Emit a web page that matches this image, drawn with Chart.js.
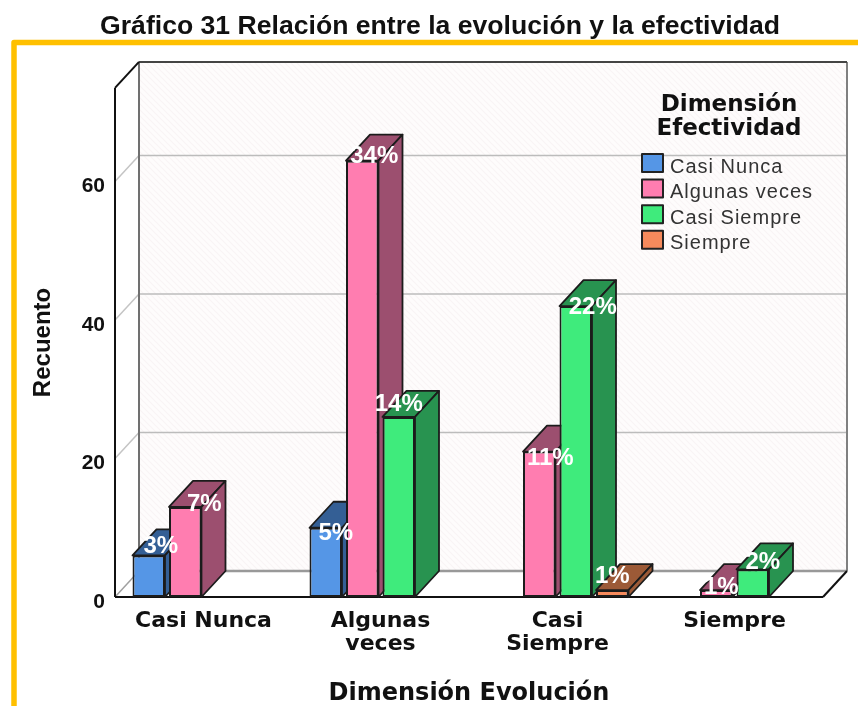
<!DOCTYPE html>
<html><head><meta charset="utf-8">
<script src="https://cdn.jsdelivr.net/npm/chart.js@4"></script>
<style>html,body{margin:0;padding:0;background:#fff}canvas{display:block}</style>
</head><body><canvas id="c" width="858" height="706"></canvas>
<script>
const categories = [['Casi Nunca'], ['Algunas','veces'], ['Casi','Siempre'], ['Siempre']];
const casiNunca    = [6, 10, null, null];
const algunasVeces = [13, 63, 21, 1];
const casiSiempre  = [null, 26, 42, 4];
const siempre      = [null, null, 1, null];
const pctCasiNunca    = ['3%', '5%', null, null];
const pctAlgunasVeces = ['7%', '34%', '11%', '1%'];
const pctCasiSiempre  = [null, '14%', '22%', '2%'];
const pctSiempre      = [null, null, '1%', null];
const legendTitle = ['Dimensión', 'Efectividad'];
const seriesNames = ['Casi Nunca', 'Algunas veces', 'Casi Siempre', 'Siempre'];
const yTicks = [0, 20, 40, 60];

const SANS = '"Liberation Sans", Arial, sans-serif';
const WIDE = '"DejaVu Sans", sans-serif';
const frontCol = ['#5596E6', '#FF7DB0', '#3FEB7C', '#F68A5C'];
const sideCol  = ['#345F95', '#9C4F6F', '#289350', '#9C5A37'];
const pctBySeries = [pctCasiNunca, pctAlgunasVeces, pctCasiSiempre, pctSiempre];
// label nudges from the centre of each bar's top edge [series][category]
const nudge = [
  [[12,-9],[10,6],null,null],
  [[19,-3],[12,-4],[11,7],[5,-3]],
  [null,[0,-13],[17,1],[10,-7]],
  [null,null,[0,-14],null]
];
const DX = 24, DY = -26;

function stripes(ctx){
  const p = document.createElement('canvas'); p.width = 6; p.height = 6;
  const c = p.getContext('2d');
  c.fillStyle = '#fefcfc'; c.fillRect(0,0,6,6);
  c.strokeStyle = '#f9f4f5'; c.lineWidth = 1.2;
  c.beginPath();
  c.moveTo(-3,-3); c.lineTo(9,9);
  c.moveTo(3,-3); c.lineTo(9,3);
  c.moveTo(-3,3); c.lineTo(3,9);
  c.stroke();
  return ctx.createPattern(p,'repeat');
}
function line(ctx,x1,y1,x2,y2,col,w){
  ctx.strokeStyle = col; ctx.lineWidth = w;
  ctx.beginPath(); ctx.moveTo(x1,y1); ctx.lineTo(x2,y2); ctx.stroke();
}
function poly(ctx,pts,fill,stroke,w){
  ctx.beginPath();
  pts.forEach((p,i)=> i ? ctx.lineTo(p[0],p[1]) : ctx.moveTo(p[0],p[1]));
  ctx.closePath();
  ctx.fillStyle = fill; ctx.fill();
  ctx.strokeStyle = stroke; ctx.lineWidth = w; ctx.lineJoin = 'round'; ctx.stroke();
}

const scene = {
  id: 'scene',
  beforeDatasetsDraw(chart){
    const ctx = chart.ctx, a = chart.chartArea, y = chart.scales.y;
    ctx.save();
    // gold frame
    ctx.strokeStyle = '#FFC000'; ctx.lineWidth = 5.5; ctx.lineJoin = 'round';
    ctx.beginPath(); ctx.moveTo(14,720); ctx.lineTo(14,42.5); ctx.lineTo(870,42.5); ctx.stroke();
    // back wall
    ctx.fillStyle = stripes(ctx);
    ctx.fillRect(a.left+DX, a.top+DY, a.right-a.left, a.bottom-a.top);
    // gridlines from the y scale
    yTicks.forEach(v=>{
      const py = y.getPixelForValue(v);
      if (v === 0) return;
      line(ctx,a.left,py,a.left+DX,py+DY,'#c4c4c4',1.5);
      line(ctx,a.left+DX,py+DY,a.right+DX,py+DY,'#bcbcbc',1.5);
    });
    // walls and floor
    line(ctx,a.left,a.bottom,a.left+DX,a.bottom+DY,'#a0a0a0',1.5);
    line(ctx,a.left+DX,a.bottom+DY,a.right+DX,a.bottom+DY,'#999999',2.5);
    line(ctx,a.left+DX,a.top+DY,a.left+DX,a.bottom+DY,'#707070',2);
    line(ctx,a.right+DX,a.top+DY,a.right+DX,a.bottom+DY,'#808080',2);
    line(ctx,a.left+DX,a.top+DY,a.right+DX,a.top+DY,'#444444',2);
    line(ctx,a.left,a.top,a.left+DX,a.top+DY,'#111',2);
    line(ctx,a.left,a.top,a.left,a.bottom,'#111',2);
    line(ctx,a.left,a.bottom,a.right,a.bottom,'#111',2);
    line(ctx,a.right,a.bottom,a.right+DX,a.bottom+DY,'#111',2);
    // legend
    ctx.textAlign = 'center'; ctx.textBaseline = 'middle';
    ctx.fillStyle = '#111'; ctx.font = 'bold 23px '+WIDE;
    legendTitle.forEach((t,i)=> ctx.fillText(t, 729, 105+i*24));
    ctx.textAlign = 'left'; ctx.font = '20px '+SANS; ctx.letterSpacing = '1px';
    seriesNames.forEach((t,i)=>{
      const top = 154 + i*25.6;
      ctx.fillStyle = frontCol[i]; ctx.fillRect(642,top,21,18);
      ctx.strokeStyle = '#222'; ctx.lineWidth = 2; ctx.strokeRect(642,top,21,18);
      ctx.fillStyle = '#333'; ctx.fillText(t, 670, top+13);
    });
    ctx.restore();
    // paint series left to right so each bar's front covers its neighbour's side
    chart.data.datasets.forEach((d,i)=>{
      const meta = chart.getDatasetMeta(i);
      ctx.save();
      meta.data.forEach((b,j)=>{
        if (d.data[j] == null) return;
        const hw = b.width/2, l = b.x-hw, r = b.x+hw, t = b.y, bt = b.base;
        poly(ctx,[[l,t],[l+DX,t+DY],[r+DX,t+DY],[r,t]],sideCol[i],'#1c1c1c',1.8);
        poly(ctx,[[r,t],[r+DX,t+DY],[r+DX,bt+DY],[r,bt]],sideCol[i],'#1c1c1c',1.8);
      });
      ctx.restore();
      meta.controller.draw();
    });
    return false;
  },
  afterDraw(chart){
    const ctx = chart.ctx;
    ctx.save();
    ctx.fillStyle = '#fff'; ctx.textAlign = 'center'; ctx.textBaseline = 'middle';
    ctx.font = 'bold 24px '+SANS;
    pctBySeries.forEach((arr,i)=>{
      const m = chart.getDatasetMeta(i);
      arr.forEach((t,j)=>{
        if (!t) return;
        const b = m.data[j], n = nudge[i][j];
        ctx.fillText(t, b.x+n[0], b.y+n[1]);
      });
    });
    ctx.restore();
  }
};

function ds(label,data,i){
  return {label,data,backgroundColor:frontCol[i],borderColor:'#1c1c1c',borderWidth:2,
          borderSkipped:false,categoryPercentage:0.825,barPercentage:0.89};
}
new Chart(document.getElementById('c'),{
  type:'bar',
  data:{labels:categories,datasets:[
    ds(seriesNames[0],casiNunca,0),ds(seriesNames[1],algunasVeces,1),
    ds(seriesNames[2],casiSiempre,2),ds(seriesNames[3],siempre,3)]},
  plugins:[scene],
  options:{
    responsive:false,animation:false,
    layout:{padding:{left:22,right:0,top:0,bottom:0}},
    plugins:{
      legend:{display:false},tooltip:{enabled:false},
      title:{display:true,text:'Gráfico 31 Relación entre la evolución y la efectividad',
        color:'#111',font:{family:SANS,size:26.6,weight:'bold',lineHeight:1.2},
        padding:{top:11,bottom:45}}
    },
    scales:{
      x:{
        grid:{display:false,drawTicks:false},border:{display:false},
        afterFit(s){s.height=109;},
        ticks:{color:'#111',autoSkip:false,maxRotation:0,minRotation:0,padding:13,
          font:{family:WIDE,size:22,weight:'bold',lineHeight:1.05}},
        title:{display:true,text:'Dimensión Evolución',color:'#111',
          font:{family:WIDE,size:24,weight:'bold',lineHeight:1.05},padding:{top:0,bottom:0}}
      },
      y:{
        min:0,max:73.5,
        grid:{display:false,drawTicks:false},border:{display:false},
        afterFit(s){s.width=93;},
        afterBuildTicks(s){s.ticks=yTicks.map(v=>({value:v}));},
        ticks:{color:'#111',padding:10,labelOffset:5,
          font:{family:SANS,size:21,weight:'bold'}},
        title:{display:true,text:'Recuento',color:'#111',
          font:{family:SANS,size:24,weight:'bold',lineHeight:1.2},padding:{top:7,bottom:0}}
      },
      rightGap:{
        axis:'y',position:'right',display:true,min:0,max:1,
        grid:{display:false,drawTicks:false},border:{display:false},
        ticks:{display:false},afterFit(s){s.width=35;}
      }
    }
  }
});
</script></body></html>
